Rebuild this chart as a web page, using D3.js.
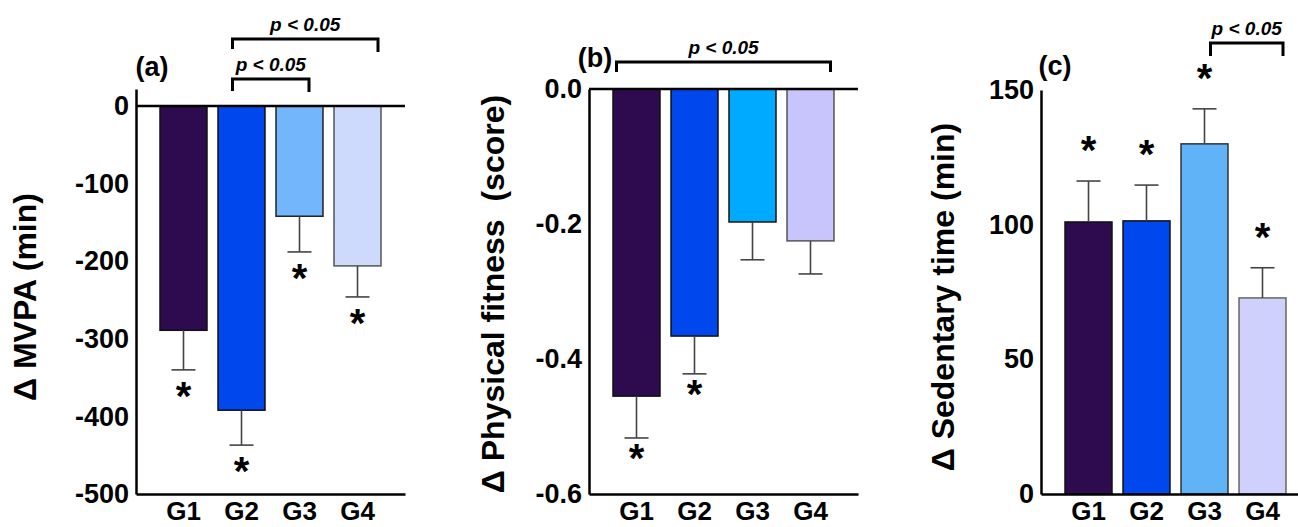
<!DOCTYPE html>
<html>
<head>
<meta charset="utf-8">
<script src="https://cdn.jsdelivr.net/npm/d3@7"></script>
<style>
    body { margin: 0; background: #fff; }
    svg text { font-family: "Liberation Sans", Arial, sans-serif; font-weight: bold; white-space: pre; }
</style>
</head>
<body>
<script>
// ---- data ----
var groups = ["G1", "G2", "G3", "G4"];

// (a) change in MVPA (min), mean and error
var mvpaMean = [-289, -392, -142, -206];
var mvpaErr = [51, 45, 46, 40];
var mvpaStar = [true, true, true, true];
var mvpaTicks = [0, -100, -200, -300, -400, -500];
var mvpaTickLabels = ["0", "-100", "-200", "-300", "-400", "-500"];
var mvpaBrackets = [
    { from: "G2", to: "G3", label: "p < 0.05" },
    { from: "G2", to: "G4", label: "p < 0.05" }
];

// (b) change in physical fitness (score)
var fitMean = [-0.455, -0.366, -0.197, -0.225];
var fitErr = [0.062, 0.056, 0.056, 0.049];
var fitStar = [true, true, false, false];
var fitTicks = [0, -0.2, -0.4, -0.6];
var fitTickLabels = ["0.0", "-0.2", "-0.4", "-0.6"];
var fitBrackets = [
    { from: "G1", to: "G4", label: "p < 0.05" }
];

// (c) change in sedentary time (min)
var sedMean = [101, 101.4, 130, 72.8];
var sedErr = [15.2, 13.3, 13, 11.2];
var sedStar = [true, true, true, true];
var sedTicks = [0, 50, 100, 150];
var sedTickLabels = ["0", "50", "100", "150"];
var sedBrackets = [
    { from: "G3", to: "G4", label: "p < 0.05" }
];

var W = 1298, H = 527;
var plotW = 269, bottom = 494;

var svg = d3.select("body").append("svg")
    .attr("width", W)
    .attr("height", H);

function drawPanel(cfg) {
    var g = svg.append("g");

    var x = d3.scaleBand()
        .domain(groups)
        .range([cfg.x0, cfg.x0 + plotW])
        .paddingInner(0.19)
        .paddingOuter(0.414);

    var y = d3.scaleLinear()
        .domain(cfg.domain)
        .range([bottom, cfg.top]);

    var rows = groups.map(function (d, i) {
        return { g: d, v: cfg.mean[i], e: cfg.err[i], star: cfg.star[i], fill: cfg.colors[i], stroke: cfg.strokes[i] };
    });

    // bars
    g.selectAll(".bar")
        .data(rows)
        .enter().append("rect")
        .attr("class", "bar")
        .attr("x", function (d) { return x(d.g); })
        .attr("width", x.bandwidth())
        .attr("y", function (d) { return Math.min(y(0), y(d.v)); })
        .attr("height", function (d) { return Math.abs(y(d.v) - y(0)); })
        .attr("fill", function (d) { return d.fill; })
        .attr("stroke", function (d) { return d.stroke; })
        .attr("stroke-width", 1.5);

    // error bars (one-sided, away from zero)
    var errEnd = function (d) { return d.v < 0 ? y(d.v - d.e) : y(d.v + d.e); };
    var cx = function (d) { return x(d.g) + x.bandwidth() / 2; };

    g.selectAll(".err")
        .data(rows)
        .enter().append("line")
        .attr("x1", cx).attr("x2", cx)
        .attr("y1", function (d) { return y(d.v); })
        .attr("y2", errEnd)
        .attr("stroke", "#444").attr("stroke-width", 1.6);

    g.selectAll(".cap")
        .data(rows)
        .enter().append("line")
        .attr("x1", function (d) { return cx(d) - 12; })
        .attr("x2", function (d) { return cx(d) + 12; })
        .attr("y1", errEnd).attr("y2", errEnd)
        .attr("stroke", "#444").attr("stroke-width", 1.6);

    // significance stars
    g.selectAll(".star")
        .data(rows.filter(function (d) { return d.star; }))
        .enter().append("text")
        .attr("x", cx)
        .attr("y", function (d) { return errEnd(d) + cfg.starOffset + 17; })
        .attr("text-anchor", "middle")
        .style("font-size", "40px")
        .text("*");

    // y axis
    var yAxis = d3.axisLeft(y)
        .tickValues(cfg.ticks)
        .tickFormat(function (d, i) { return cfg.tickLabels[i]; })
        .tickSize(0)
        .tickPadding(7);

    var yg = g.append("g")
        .attr("transform", "translate(" + cfg.x0 + ",0)")
        .call(yAxis);
    yg.select(".domain").attr("stroke-width", 2.5);
    yg.selectAll("text").style("font-size", "27px").attr("fill", "#000");

    // x axis
    var xAxis = d3.axisBottom(x).tickSize(0).tickPadding(8);
    var xg = g.append("g")
        .attr("transform", "translate(0," + bottom + ")")
        .call(xAxis);
    xg.select(".domain").attr("stroke-width", 2.5);
    xg.selectAll("text").style("font-size", "26px").attr("fill", "#000");

    // zero line for the negative panels
    if (cfg.zeroLine) {
        g.append("line")
            .attr("x1", cfg.x0).attr("x2", cfg.x0 + plotW)
            .attr("y1", y(0)).attr("y2", y(0))
            .attr("stroke", "#000").attr("stroke-width", 2.5);
    }

    // comparison brackets
    cfg.brackets.forEach(function (b, i) {
        var lay = cfg.bracketLayout[i];
        var x1 = x(b.from) + x.bandwidth() / 2 + lay.dx1;
        var x2 = x(b.to) + x.bandwidth() / 2 + lay.dx2;
        g.append("path")
            .attr("d", "M" + x1 + "," + (lay.y + lay.leg1) + "V" + lay.y + "H" + x2 + "V" + (lay.y + lay.leg2))
            .attr("fill", "none")
            .attr("stroke", "#000")
            .attr("stroke-width", 3);
        g.append("text")
            .attr("x", (x1 + x2) / 2)
            .attr("y", lay.y - 8)
            .attr("text-anchor", "middle")
            .style("font-size", "19px")
            .style("font-style", "italic")
            .text(b.label);
    });

    // panel letter
    g.append("text")
        .attr("x", cfg.letterX)
        .attr("y", cfg.letterY)
        .attr("text-anchor", "middle")
        .style("font-size", "27px")
        .text(cfg.letter);

    // y title
    g.append("text")
        .attr("transform", "translate(" + cfg.titleX + "," + cfg.titleY + ") rotate(-90)")
        .attr("text-anchor", "middle")
        .attr("dy", "0.35em")
        .style("font-size", "32px")
        .text(cfg.title);
}

drawPanel({
    x0: 136, top: 89, domain: [-500, 22],
    mean: mvpaMean, err: mvpaErr, star: mvpaStar,
    ticks: mvpaTicks, tickLabels: mvpaTickLabels,
    colors: ["#2e0a4f", "#0048ee", "#74b6fc", "#cddafc"],
    strokes: ["#111", "#111", "#222", "#555"],
    starOffset: 23, zeroLine: true,
    brackets: mvpaBrackets,
    bracketLayout: [
        { dx1: -9, dx2: 9.5, y: 79, leg1: 12, leg2: 13 },
        { dx1: -9, dx2: 20.5, y: 39, leg1: 10, leg2: 13 }
    ],
    letter: "(a)", letterX: 152, letterY: 76,
    title: "\u0394 MVPA (min)", titleX: 25, titleY: 297
});

drawPanel({
    x0: 589, top: 89, domain: [-0.6, 0],
    mean: fitMean, err: fitErr, star: fitStar,
    ticks: fitTicks, tickLabels: fitTickLabels,
    colors: ["#2e0a4f", "#0048ee", "#00aaff", "#c8c4fc"],
    strokes: ["#111", "#111", "#111", "#555"],
    starOffset: 17, zeroLine: true,
    brackets: fitBrackets,
    bracketLayout: [
        { dx1: -20, dx2: 20, y: 62, leg1: 10, leg2: 10 }
    ],
    letter: "(b)", letterX: 595, letterY: 67,
    title: "\u0394 Physical fitness  (score)", titleX: 493, titleY: 294
});

drawPanel({
    x0: 1041, top: 90, domain: [0, 150],
    mean: sedMean, err: sedErr, star: sedStar,
    ticks: sedTicks, tickLabels: sedTickLabels,
    colors: ["#2e0a4f", "#0048ee", "#60b3f7", "#d0d0fc"],
    strokes: ["#111", "#111", "#333", "#666"],
    starOffset: -34, zeroLine: false,
    brackets: sedBrackets,
    bracketLayout: [
        { dx1: 6, dx2: 20.5, y: 43, leg1: 13, leg2: 13 }
    ],
    letter: "(c)", letterX: 1055, letterY: 75,
    title: "\u0394 Sedentary time (min)", titleX: 943, titleY: 297
});
</script>
</body>
</html>
